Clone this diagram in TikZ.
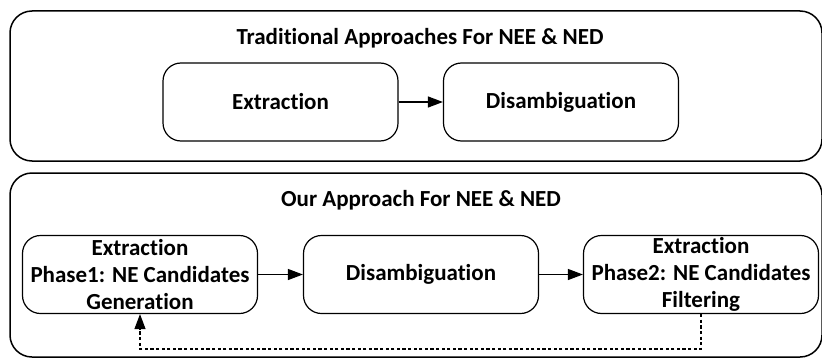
\documentclass[tikz,border=0pt]{standalone}
\usepackage{fontspec}
\setmainfont[Ligatures=NoCommon]{Carlito}
\usetikzlibrary{arrows.meta}
\begin{document}
\begin{tikzpicture}[x=0.5pt,y=-0.5pt,
  outerbox/.style={draw=black,line width=0.75pt,rounded corners=11pt},
  stagebox/.style={draw=black,line width=0.6pt,rounded corners=9pt,
    minimum width=117.5pt,minimum height=39pt,align=center,inner sep=0pt,
    font=\fontsize{11.5}{13.6}\selectfont\bfseries},
  titletext/.style={font=\fontsize{11.5}{13}\selectfont\bfseries,inner sep=0pt},
  flow/.style={draw=black,line width=0.6pt,-{Triangle[length=7.5pt,width=5.5pt]}},
  feedback/.style={draw=black,line width=0.6pt,dash pattern=on 1.6pt off 1.2pt,-{Triangle[length=7.5pt,width=5.5pt]}}
]
\useasboundingbox (0,0) rectangle (822,358);
\begin{scope}
\clip (0,0) rectangle (822,358);
\draw[outerbox] (10,11) rectangle (822,161);
\draw[outerbox] (10,173) rectangle (822,357);
\end{scope}
\node[titletext] (t1) at (420,38) {Traditional Approaches For NEE \& NED};
\node[stagebox] (e1) at (280.5,102) {Extraction};
\node[stagebox] (d1) at (561,102) {Disambiguation};
\draw[flow] (e1) -- (d1);

\node[titletext] (t2) at (421,200) {Our Approach For NEE \& NED};
\node[stagebox] (b1) at (140,274.5) {Extraction\\Phase1: NE Candidates\\Generation};
\node[stagebox] (b2) at (421,274.5) {Disambiguation};
\node[stagebox] (b3) at (701,274.5) {Extraction\\Phase2: NE Candidates\\Filtering};
\draw[flow] (b1) -- (b2);
\draw[flow] (b2) -- (b3);
\coordinate (c1) at (701,349);
\draw[feedback] (b3.south) -- (c1) -| (b1.south);
\end{tikzpicture}
\end{document}
